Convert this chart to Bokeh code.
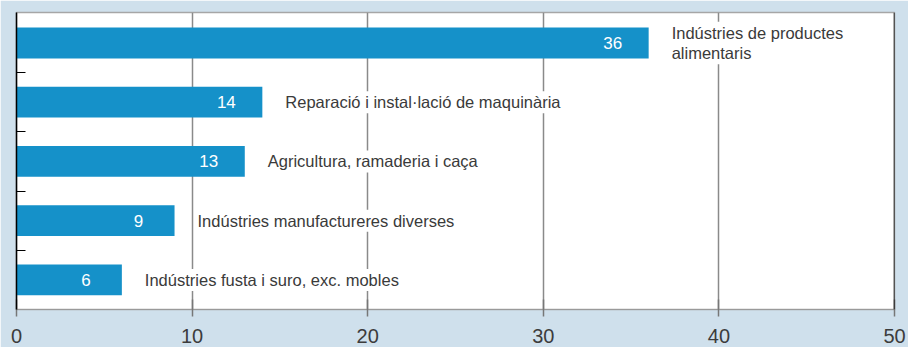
from bokeh.plotting import figure
from bokeh.models import Range1d, FixedTicker, Span, ColumnDataSource
from bokeh.core.properties import value
from bokeh.embed import file_html
from bokeh.resources import INLINE

categories = [
    "Indústries de productes\nalimentaris",
    "Reparació i instal·lació de maquinària",
    "Agricultura, ramaderia i caça",
    "Indústries manufactureres diverses",
    "Indústries fusta i suro, exc. mobles",
]
values = [36, 14, 13, 9, 6]
x_ticks = [0, 10, 20, 30, 40, 50]

BG = "#cfe0ec"
BAR = "#1591c9"
FONT = "Liberation Sans"

positions = list(range(len(categories)))
boundaries = [i + 0.5 for i in positions[:-1]]
src = ColumnDataSource(dict(y=positions, v=values, cat=categories,
                            vtxt=[str(v) for v in values]))

p = figure(width=908, height=347, output_backend="svg", toolbar_location=None,
           x_range=Range1d(0, 50), y_range=Range1d(4.5, -0.515),
           min_border_left=16, min_border_right=14, min_border_top=12,
           min_border_bottom=38)
p.border_fill_color = BG
p.background_fill_color = "white"
p.outline_line_color = "#a6a6a6"
p.outline_line_width = 1.5

p.hbar(y="y", right="v", left=0, height=0.52, source=src,
       fill_color=BAR, line_color=None)

p.text(x="v", y="y", text="vtxt", source=src, x_offset=-36,
       text_align="center", text_baseline="middle",
       text_font=value(FONT), text_font_size="17px", text_color="white")

p.text(x="v", y="y", text="cat", source=src, x_offset=21,
       text_align="left", text_baseline="middle",
       text_font=value(FONT), text_font_size="16.5px", text_color="#3a3a3a",
       text_line_height=1.15,
       background_fill_color="white", padding=2)

xt = FixedTicker(ticks=x_ticks)
p.xaxis.ticker = xt
p.xgrid.ticker = xt
p.xgrid.grid_line_color = "#8a8a8a"
p.xgrid.grid_line_width = 1.5
p.ygrid.grid_line_color = None

p.xaxis.axis_line_color = "#9a9a9a"
p.xaxis.axis_line_width = 1.2
p.xaxis.major_tick_in = 10
p.xaxis.major_tick_out = 7
p.xaxis.major_tick_line_color = "#777777"
p.xaxis.major_tick_line_width = 1.5
p.xaxis.minor_tick_line_color = None
p.xaxis.major_label_text_font = FONT
p.xaxis.major_label_text_font_size = "20px"
p.xaxis.major_label_text_color = "#3c3c3c"
p.xaxis.major_label_standoff = 12

p.yaxis.ticker = FixedTicker(ticks=boundaries)
p.yaxis.axis_line_color = "black"
p.yaxis.axis_line_width = 1.5
p.yaxis.major_tick_in = 9
p.yaxis.major_tick_out = 0
p.yaxis.major_tick_line_color = "black"
p.yaxis.minor_tick_line_color = None
p.yaxis.major_label_text_font_size = "1px"
p.yaxis.major_label_text_color = None
p.yaxis.major_label_standoff = 0

p.add_layout(Span(location=50, dimension="height", line_color="black",
                  line_width=1.5))

html = file_html(p, INLINE)
html = html.replace("<body>", '<body style="background-color:%s;">' % BG, 1)
open("out.html", "w").write(html)
